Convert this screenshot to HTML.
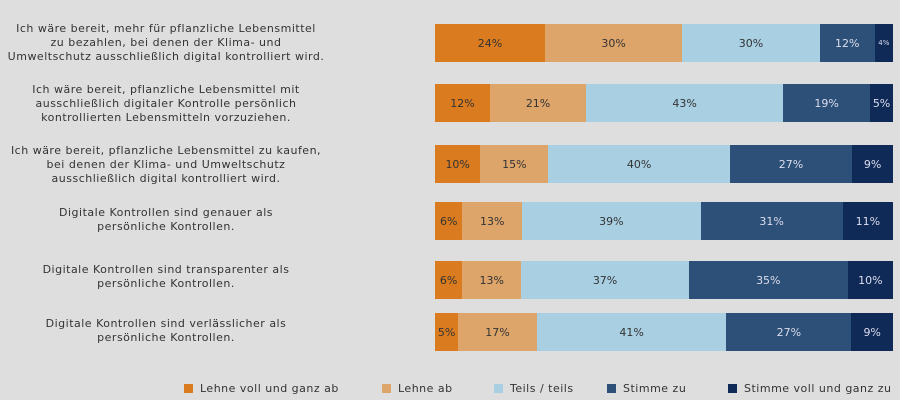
<!DOCTYPE html><html><head><style>
body{margin:0;width:900px;height:400px;background:#dedede;font-family:"DejaVu Sans",sans-serif;position:relative;overflow:hidden}
.lab{position:absolute;left:0;width:332px;text-align:center;font-size:11px;letter-spacing:0.5px;line-height:14px;color:#333}
.bar{position:absolute;left:435px;width:458px;height:38px;display:flex}
.bar div{display:flex;align-items:center;justify-content:center;font-size:11px;color:#333}
.a{background:#d97b1e}.b{background:#dea56a}.c{background:#a9cfe3}.d{background:#2c5077;color:#dde!important}.e{background:#0f2a57;color:#dde!important}
.lg{position:absolute;top:382px;font-size:11px;letter-spacing:0.5px;color:#333;display:flex;align-items:center;white-space:nowrap}
.lg i{display:inline-block;width:9px;height:9px;margin-right:7px}
</style></head><body>
<div class="lab" style="top:22px">Ich wäre bereit, mehr für pflanzliche Lebensmittel<br>zu bezahlen, bei denen der Klima- und<br>Umweltschutz ausschließlich digital kontrolliert wird.</div>
<div class="bar" style="top:24px"><div class="a" style="flex:24">24%</div><div class="b" style="flex:30">30%</div><div class="c" style="flex:30">30%</div><div class="d" style="flex:12">12%</div><div class="e" style="flex:4;font-size:7px">4%</div></div>
<div class="lab" style="top:83px">Ich wäre bereit, pflanzliche Lebensmittel mit<br>ausschließlich digitaler Kontrolle persönlich<br>kontrollierten Lebensmitteln vorzuziehen.</div>
<div class="bar" style="top:84px"><div class="a" style="flex:12">12%</div><div class="b" style="flex:21">21%</div><div class="c" style="flex:43">43%</div><div class="d" style="flex:19">19%</div><div class="e" style="flex:5">5%</div></div>
<div class="lab" style="top:144px">Ich wäre bereit, pflanzliche Lebensmittel zu kaufen,<br>bei denen der Klima- und Umweltschutz<br>ausschließlich digital kontrolliert wird.</div>
<div class="bar" style="top:145px"><div class="a" style="flex:10">10%</div><div class="b" style="flex:15">15%</div><div class="c" style="flex:40">40%</div><div class="d" style="flex:27">27%</div><div class="e" style="flex:9">9%</div></div>
<div class="lab" style="top:206px">Digitale Kontrollen sind genauer als<br>persönliche Kontrollen.</div>
<div class="bar" style="top:202px"><div class="a" style="flex:6">6%</div><div class="b" style="flex:13">13%</div><div class="c" style="flex:39">39%</div><div class="d" style="flex:31">31%</div><div class="e" style="flex:11">11%</div></div>
<div class="lab" style="top:263px">Digitale Kontrollen sind transparenter als<br>persönliche Kontrollen.</div>
<div class="bar" style="top:261px"><div class="a" style="flex:6">6%</div><div class="b" style="flex:13">13%</div><div class="c" style="flex:37">37%</div><div class="d" style="flex:35">35%</div><div class="e" style="flex:10">10%</div></div>
<div class="lab" style="top:317px">Digitale Kontrollen sind verlässlicher als<br>persönliche Kontrollen.</div>
<div class="bar" style="top:313px"><div class="a" style="flex:5">5%</div><div class="b" style="flex:17">17%</div><div class="c" style="flex:41">41%</div><div class="d" style="flex:27">27%</div><div class="e" style="flex:9">9%</div></div>
<div class="lg" style="left:184px"><i style="background:#d97b1e"></i>Lehne voll und ganz ab</div>
<div class="lg" style="left:382px"><i style="background:#dea56a"></i>Lehne ab</div>
<div class="lg" style="left:494px"><i style="background:#a9cfe3"></i>Teils / teils</div>
<div class="lg" style="left:607px"><i style="background:#2c5077"></i>Stimme zu</div>
<div class="lg" style="left:728px"><i style="background:#0f2a57"></i>Stimme voll und ganz zu</div>
</body></html>
